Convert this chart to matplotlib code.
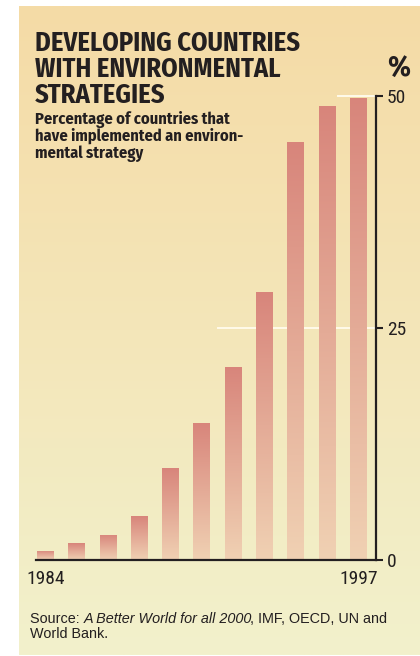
import numpy as np
import matplotlib
matplotlib.use("Agg")
import matplotlib.pyplot as plt
from matplotlib.colors import to_rgb

# data
values = [1.0, 1.8, 2.7, 4.7, 9.9, 14.8, 20.8, 28.9, 45.0, 48.9, 49.8]
tick_pos = [0, 10]
tick_labels = ["1984", "1997"]
y_ticks = [0, 25, 50]

title_lines = ["DEVELOPING COUNTRIES", "WITH ENVIRONMENTAL", "STRATEGIES"]
subtitle_lines = ["Percentage of countries that",
                  "have implemented an environ-",
                  "mental strategy"]

head_font = ["Fira Sans Condensed", "Liberation Sans"]
num_font = ["Roboto Condensed", "Liberation Sans"]
src_font = ["Liberation Sans", "DejaVu Sans"]
ink = "#231f20"

W, H = 420, 656


def px(x, y):
    return x / W, 1 - y / H


def vgrad(top, bottom, n=256):
    t = np.linspace(0, 1, n)[:, None, None]
    return (1 - t) * np.array(to_rgb(top)) + t * np.array(to_rgb(bottom))


fig = plt.figure(figsize=(W / 100, H / 100), dpi=100)

# panel background gradient
bg = fig.add_axes([19 / W, 1 / H, 401 / W, 649 / H], zorder=0)
bg.imshow(vgrad("#f5dba6", "#f2f1cc"), aspect="auto", extent=[0, 1, 0, 1])
bg.axis("off")

ax = fig.add_axes([36 / W, 96 / H, 340 / W, 464 / H], zorder=1)
ax.set_facecolor("none")

x = np.arange(len(values))
rects = ax.bar(x, values, width=0.54, color="none", edgecolor="none")
bar_grad = vgrad("#d8857b", "#f0d1b3")
for r in rects:
    x0, w, h = r.get_x(), r.get_width(), r.get_height()
    im = ax.imshow(bar_grad, aspect="auto", extent=[x0, x0 + w, 0, h], zorder=2)
    im.set_clip_path(r)

ax.axhline(25, xmin=0.535, xmax=1, color="#fffaea", lw=1.4, zorder=1)
ax.axhline(50, xmin=0.888, xmax=1, color="#fffaea", lw=1.4, zorder=1, clip_on=False)

ax.set_xlim(-0.30, 10.56)
ax.set_ylim(0, 50)

for s in ["left", "top"]:
    ax.spines[s].set_visible(False)
for s in ["right", "bottom"]:
    ax.spines[s].set_color(ink)
    ax.spines[s].set_linewidth(1.6)

ax.yaxis.tick_right()
ax.set_yticks(y_ticks)
ax.tick_params(axis="y", direction="out", length=5, width=1.5, color=ink, pad=3)
ax.set_xticks(tick_pos, tick_labels)
ax.tick_params(axis="x", length=0, pad=7)
for lab in ax.get_xticklabels() + ax.get_yticklabels():
    lab.set_fontfamily(num_font)
    lab.set_fontsize(14)
    lab.set_color(ink)

# titles
for line, yb in zip(title_lines, [51, 77, 103]):
    fig.text(*px(35, yb), line, family=head_font, weight="bold", fontsize=19,
             color=ink, va="baseline", ha="left")
for line, yb in zip(subtitle_lines, [123.5, 140.5, 157.5]):
    fig.text(*px(35, yb), line, family=head_font, weight="bold", fontsize=11.8,
             color=ink, va="baseline", ha="left")
fig.text(*px(399, 76), "%", family=head_font, weight="bold", fontsize=21,
         color=ink, va="baseline", ha="center")

# source note, italic title in the middle
fs = 10.35
t1 = fig.text(*px(30, 623), "Source: ", family=src_font, fontsize=fs,
              color=ink, va="baseline")
t2 = fig.text(0, 0, "A Better World for all 2000", family=src_font, style="italic",
              fontsize=fs, color=ink, va="baseline")
t3 = fig.text(0, 0, ", IMF, OECD, UN and", family=src_font, fontsize=fs,
              color=ink, va="baseline")
fig.canvas.draw()
r = fig.canvas.get_renderer()
xa = t1.get_window_extent(r).x1
t2.set_position((xa / fig.bbox.width, 1 - 623 / H))
xb = t2.get_window_extent(r).x1 - 1.5
t3.set_position((xb / fig.bbox.width, 1 - 623 / H))
fig.text(*px(30, 638), "World Bank.", family=src_font, fontsize=fs,
         color=ink, va="baseline")

fig.savefig("out.png", dpi=100)
